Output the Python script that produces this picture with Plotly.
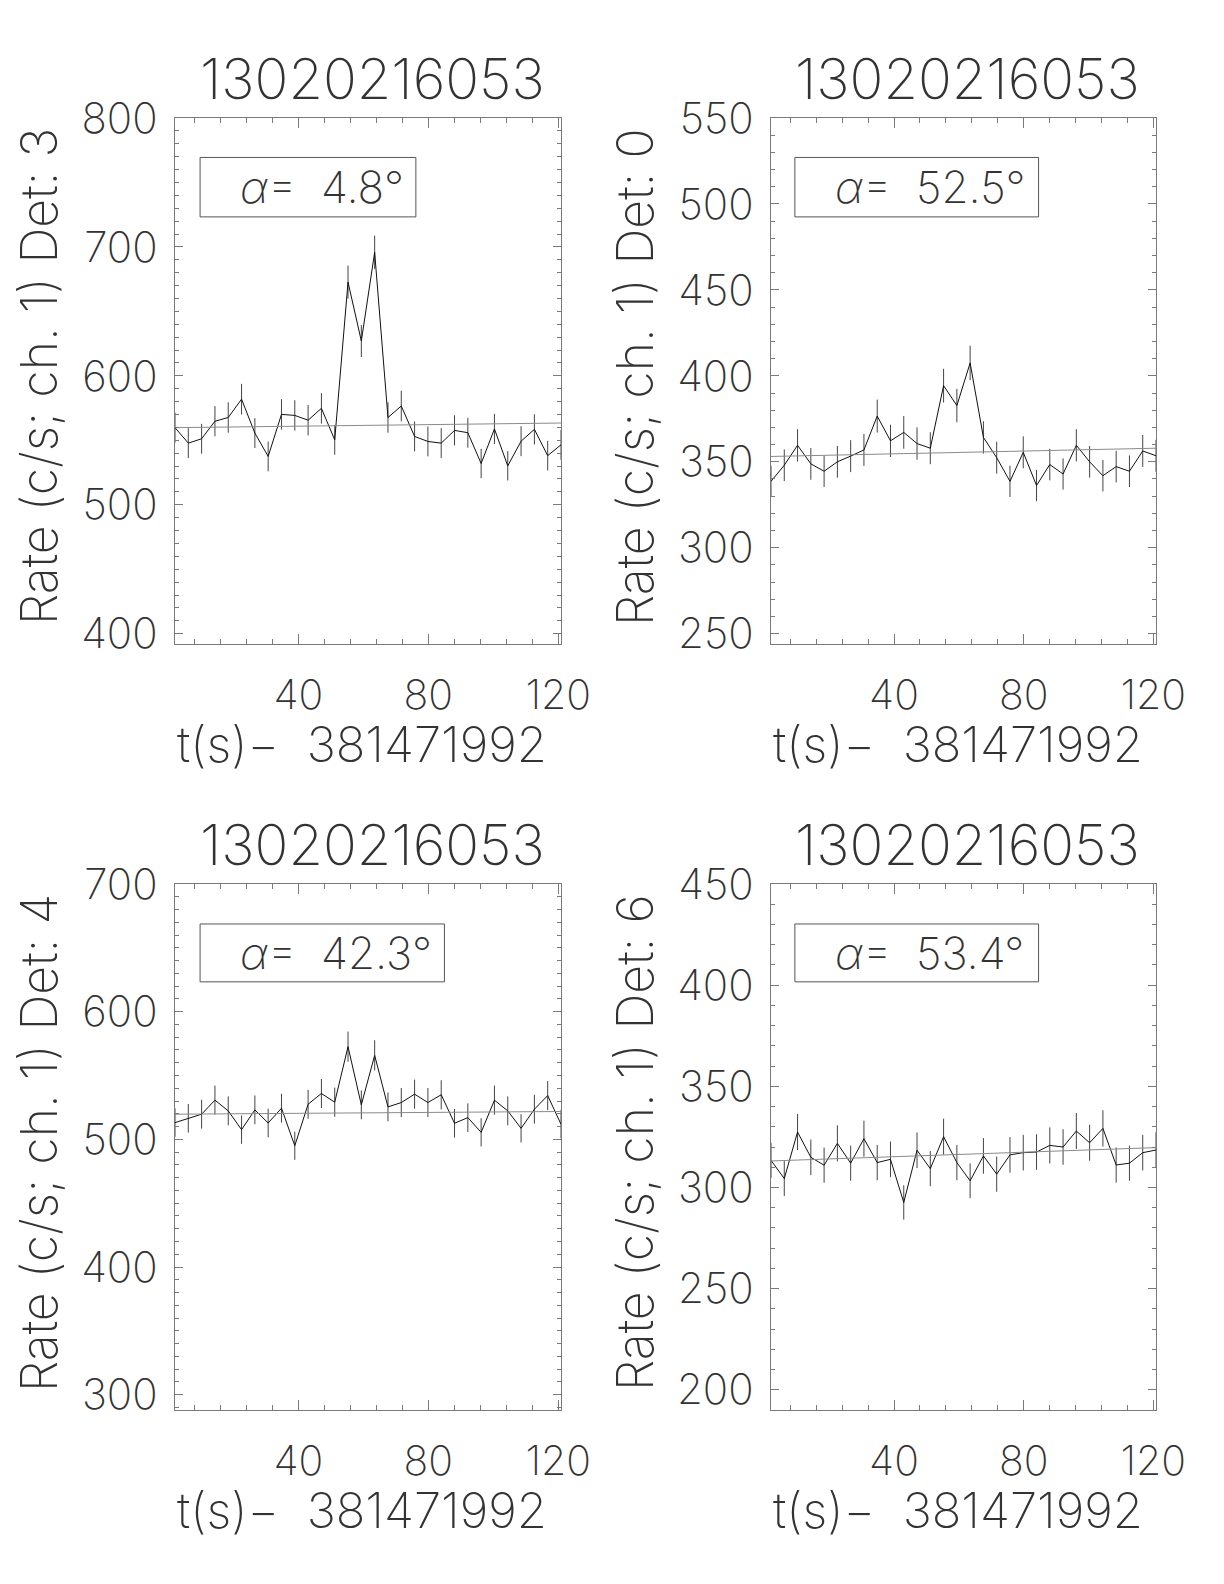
import plotly.graph_objects as go

# ---------------- data ----------------
BURST = "13020216053"
T_ZERO = "381471992"

t = [2.048, 6.144, 10.240, 14.336, 18.432, 22.528, 26.624, 30.720, 34.816, 38.912,
     43.008, 47.104, 51.200, 55.296, 59.392, 63.488, 67.584, 71.680, 75.776, 79.872,
     83.968, 88.064, 92.160, 96.256, 100.352, 104.448, 108.544, 112.640, 116.736, 120.832]

dets = [3, 0, 4, 6]
alphas = ["4.8", "52.5", "42.3", "53.4"]

rate_det3 = [559.8, 547.8, 551.2, 564.8, 567.7, 581.9, 555.6, 537.5, 570.1, 569.3,
             565.6, 574.8, 550.4, 672.7, 627.0, 695.8, 567.7, 576.6, 553.0, 549.1,
             547.8, 557.7, 555.9, 532.0, 558.8, 530.2, 549.3, 558.5, 538.1, 546.5]
err_det3 = [11.7, 11.6, 11.6, 11.7, 11.8, 11.9, 11.6, 11.5, 11.8, 11.8,
            11.8, 11.8, 11.6, 12.8, 12.4, 13.0, 11.8, 11.9, 11.6, 11.6,
            11.6, 11.7, 11.6, 11.4, 11.7, 11.4, 11.6, 11.7, 11.5, 11.6]
bkg_det3 = [559.8, 563.4]

rate_det0 = [338.6, 348.0, 359.6, 348.8, 344.5, 350.0, 353.3, 356.9, 376.6, 362.2,
             367.1, 360.6, 357.9, 394.3, 382.7, 407.5, 364.2, 352.4, 338.6, 355.5,
             336.2, 348.4, 342.9, 359.6, 350.0, 341.9, 347.2, 344.5, 356.3, 353.5]
err_det0 = [9.1, 9.2, 9.4, 9.2, 9.2, 9.2, 9.3, 9.3, 9.6, 9.4,
            9.5, 9.4, 9.3, 9.8, 9.7, 10.0, 9.4, 9.3, 9.1, 9.3,
            9.1, 9.2, 9.1, 9.4, 9.2, 9.1, 9.2, 9.2, 9.3, 9.3]
bkg_det0 = [353.1, 357.9]

rate_det4 = [513.1, 516.5, 519.7, 530.7, 522.3, 507.6, 523.1, 512.8, 524.4, 495.0,
             527.5, 535.9, 529.1, 572.6, 527.0, 565.8, 525.4, 528.8, 535.4, 528.8,
             534.9, 512.6, 517.0, 505.5, 530.7, 522.3, 508.6, 523.6, 534.3, 511.8]
err_det4 = [11.2, 11.2, 11.3, 11.4, 11.3, 11.1, 11.3, 11.2, 11.3, 11.0,
            11.3, 11.4, 11.4, 11.8, 11.3, 11.8, 11.3, 11.4, 11.4, 11.4,
            11.4, 11.2, 11.2, 11.1, 11.4, 11.3, 11.1, 11.3, 11.4, 11.2]
bkg_det4 = [519.7, 521.8]

rate_det6 = [313.4, 304.4, 327.4, 314.9, 311.0, 321.8, 312.0, 324.1, 312.3, 313.9,
             292.6, 318.4, 309.3, 325.1, 312.3, 303.3, 315.6, 306.6, 316.1, 317.2,
             317.5, 320.8, 320.0, 327.9, 322.1, 329.2, 311.1, 312.0, 317.2, 318.5]
err_det6 = [8.7, 8.6, 8.9, 8.8, 8.7, 8.9, 8.7, 8.9, 8.7, 8.8,
            8.5, 8.8, 8.7, 8.9, 8.7, 8.6, 8.8, 8.7, 8.8, 8.8,
            8.8, 8.9, 8.8, 8.9, 8.9, 9.0, 8.7, 8.7, 8.8, 8.8]
bkg_det6 = [313.1, 319.7]

rates = [rate_det3, rate_det0, rate_det4, rate_det6]
errs = [err_det3, err_det0, err_det4, err_det6]
bkgs = [bkg_det3, bkg_det0, bkg_det4, bkg_det6]

# ---------------- layout config ----------------
OFF = 8                      # default page (body) margin
W, H = 1224 - 2 * OFF, 1584 - 2 * OFF
FONT = "Inter, DejaVu Sans"
WEIGHT = 250
TXT = "#333333"
AX = "#7a7a7a"

# page-pixel boxes of the four plotting areas (left, right, top, bottom)
boxes = [(175, 561, 118, 644), (771, 1156, 118, 644),
         (175, 561, 884, 1410), (771, 1156, 884, 1410)]
yranges = [(392, 800), (244, 550), (288, 700), (190, 450)]
ydticks = [100, 50, 100, 50]
# alpha box in axis-domain fractions (x0, x1, y0, y1)
abox = [(0.065, 0.624, 0.812, 0.925), (0.062, 0.695, 0.812, 0.925),
        (0.065, 0.698, 0.814, 0.924), (0.062, 0.695, 0.814, 0.924)]


def px(x):
    return (x - OFF) / W


def py(y):
    return 1 - (y - OFF) / H


def f(size):
    return dict(family=FONT, size=size, color=TXT, weight=WEIGHT)


fig = go.Figure()
annotations = []
shapes = []
layout_axes = {}

for k in range(4):
    n = "" if k == 0 else str(k + 1)
    xref, yref = "x" + n, "y" + n
    L, R, T, B = boxes[k]

    fig.add_trace(go.Scatter(
        x=t, y=rates[k], mode="lines", xaxis=xref, yaxis=yref,
        line=dict(color="#111111", width=1),
        error_y=dict(type="data", array=errs[k], visible=True,
                     color="#444444", thickness=1, width=0),
        showlegend=False, hoverinfo="skip"))
    fig.add_trace(go.Scatter(
        x=[t[0], t[-1]], y=bkgs[k], mode="lines", xaxis=xref, yaxis=yref,
        line=dict(color="#8a8a8a", width=1), showlegend=False, hoverinfo="skip"))

    layout_axes["xaxis" + n] = dict(
        domain=[px(L), px(R)], anchor=yref, range=[t[0], t[-1]], automargin=False,
        tick0=0, dtick=40, ticks="inside", ticklen=10, tickwidth=1, tickcolor=AX,
        minor=dict(ticks="inside", tick0=0, dtick=8, ticklen=5, tickwidth=1, tickcolor=AX),
        showline=True, linecolor=AX, linewidth=1, mirror="allticks",
        showgrid=False, zeroline=False, ticklabelstandoff=15, tickfont=f(41))
    layout_axes["yaxis" + n] = dict(
        domain=[py(B), py(T)], anchor=xref, range=list(yranges[k]), automargin=False,
        tick0=0, dtick=ydticks[k], ticks="inside", ticklen=8, tickwidth=1, tickcolor=AX,
        minor=dict(ticks="inside", tick0=0, dtick=10, ticklen=4, tickwidth=1, tickcolor=AX),
        showline=True, linecolor=AX, linewidth=1, mirror="allticks",
        showgrid=False, zeroline=False, ticklabelstandoff=8, tickfont=f(42))

    # panel title
    annotations.append(dict(
        text=BURST, xref="paper", yref="paper", x=px((L + R) / 2 + 4), y=py(T - 39),
        xanchor="center", yanchor="middle", showarrow=False, font=f(56)))
    # x title
    annotations.append(dict(
        text="t(s)\u2212  " + T_ZERO, xref="paper", yref="paper",
        x=px((L + R) / 2 - 6), y=py(B + 100),
        xanchor="center", yanchor="middle", showarrow=False, font=f(49)))
    # y title
    annotations.append(dict(
        text="Rate (c/s; ch. 1) Det: %d" % dets[k], xref="paper", yref="paper",
        x=px(L - 136), y=py((T + B) / 2 - 4), textangle=-90,
        xanchor="center", yanchor="middle", showarrow=False, font=f(50)))
    # alpha box
    x0, x1, y0, y1 = abox[k]
    shapes.append(dict(type="rect", xref=xref + " domain", yref=yref + " domain",
                       x0=x0, x1=x1, y0=y0, y1=y1,
                       line=dict(color="#555555", width=1)))
    annotations.append(dict(
        text="<i>\u03b1</i>=  " + alphas[k] + "\u00b0",
        xref=xref + " domain", yref=yref + " domain",
        x=x0 + 38 / (R - L), y=(y0 + y1) / 2, xanchor="left", yanchor="middle",
        showarrow=False, font=f(44)))

fig.update_layout(
    width=W, height=H, margin=dict(l=0, r=0, t=0, b=0),
    paper_bgcolor="white", plot_bgcolor="white", showlegend=False,
    annotations=annotations, shapes=shapes, **layout_axes)

fig.write_html("out.html")
